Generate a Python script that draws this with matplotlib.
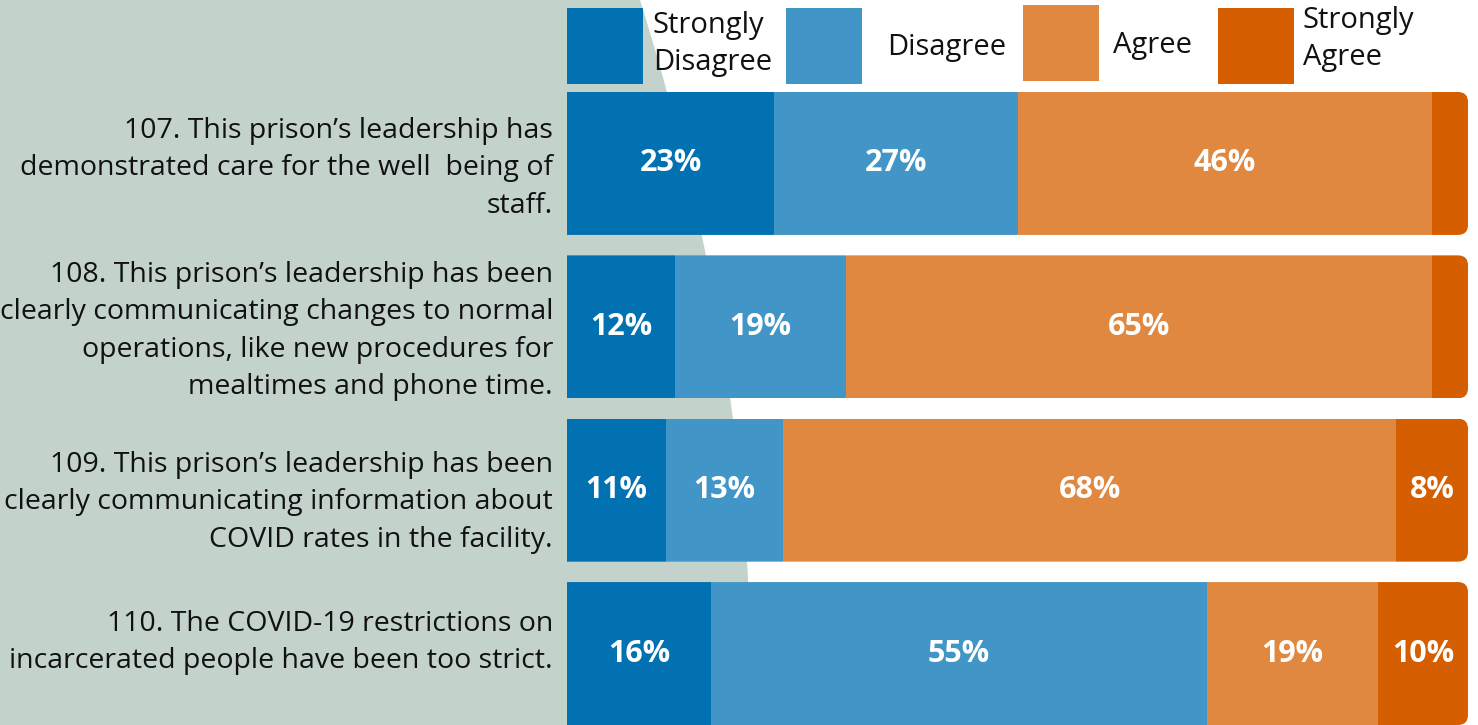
import matplotlib
matplotlib.use("Agg")
import matplotlib.pyplot as plt
from matplotlib.patches import Rectangle, FancyBboxPatch, PathPatch
from matplotlib.path import Path
from matplotlib.transforms import ScaledTranslation
import numpy as np

plt.rcParams['font.family'] = ['Open Sans', 'DejaVu Sans']

questions = [
    "107. This prison\u2019s leadership has\ndemonstrated care for the well  being of\nstaff.",
    "108. This prison\u2019s leadership has been\nclearly communicating changes to normal\noperations, like new procedures for\nmealtimes and phone time.",
    "109. This prison\u2019s leadership has been\nclearly communicating information about\nCOVID rates in the facility.",
    "110. The COVID-19 restrictions on\nincarcerated people have been too strict.",
]
categories = ["Strongly\nDisagree", "Disagree", "Agree", "Strongly\nAgree"]
strongly_disagree = [23, 12, 11, 16]
disagree = [27, 19, 13, 55]
agree = [46, 65, 68, 19]
strongly_agree = [4, 4, 8, 10]
colors = ["#0171b1", "#4195c7", "#e0883f", "#d55e00"]

W, H = 1478, 725
fig = plt.figure(figsize=(W / 100, H / 100), dpi=100)


def fx(px):
    return px / W


def fy(py):
    return 1 - py / H


# grey background shape on the left
verts = [(fx(0), fy(0)), (fx(640), fy(0)), (fx(754), fy(362)), (fx(752), fy(725)),
         (fx(0), fy(725)), (fx(0), fy(0))]
codes = [Path.MOVETO, Path.LINETO, Path.CURVE3, Path.CURVE3, Path.LINETO, Path.CLOSEPOLY]
bg = PathPatch(Path(verts, codes), transform=fig.transFigure, facecolor="#c3d3cc",
               edgecolor="none", zorder=-1)
fig.add_artist(bg)

ax = fig.add_axes([fx(567), 0, fx(1468) - fx(567), fy(92)])
ax.patch.set_visible(False)

series = [strongly_disagree, disagree, agree, strongly_agree]
ypos = np.arange(len(questions))
h = 0.875
ax.set_xlim(0, 100)
ax.set_ylim(3 + h / 2, -h / 2)

# rounded right ends
xunit = (1468 - 567) / 100
yunit = (725 - 92) / (3 + h)
r = 10 / xunit
clips = []
for y in ypos:
    c = FancyBboxPatch((-5, y - h / 2), 105, h, boxstyle=f"round,pad=0,rounding_size={r}",
                       mutation_aspect=xunit / yunit, transform=ax.transData,
                       facecolor="none", edgecolor="none")
    ax.add_patch(c)
    clips.append(c)

left = np.zeros(len(questions))
for vals, col in zip(series, colors):
    bars = ax.barh(ypos, vals, left=left, height=h, color=col, edgecolor="none")
    for i, b in enumerate(bars):
        b.set_clip_path(clips[i])
        if vals[i] >= 8:
            ax.text(left[i] + vals[i] / 2, ypos[i], f"{vals[i]}%", ha="center", va="center",
                    color="white", fontsize=22, fontweight="bold")
    left += np.array(vals)

# question labels (small per-row nudges in pixels, like the original)
nudge = [-5, -4, -12, 11]
for y, q, dy in zip(ypos, questions, nudge):
    tr = ax.get_yaxis_transform() + ScaledTranslation(-14 / 100, dy / 100, fig.dpi_scale_trans)
    ax.text(0, y, q, transform=tr, ha="right", va="center", fontsize=20.5,
            color="#111111", linespacing=1.45, clip_on=False)

ax.set_yticks([])
ax.set_xticks([])
for s in ax.spines.values():
    s.set_visible(False)

# legend
sq = [(567, 8), (786, 8), (1023, 5), (1218, 8)]
txt = [(653, 44), (887, 47), (1113, 45), (1303, 39)]
for (x, y), (tx, ty), col, lab in zip(sq, txt, colors, categories):
    fig.add_artist(Rectangle((fx(x), fy(y + 76)), fx(76), 76 / H, transform=fig.transFigure,
                             facecolor=col, edgecolor="none"))
    fig.text(fx(tx), fy(ty), lab, ha="left", va="center", fontsize=21, color="#111111",
             linespacing=1.38)

fig.savefig("out.png", dpi=100)
